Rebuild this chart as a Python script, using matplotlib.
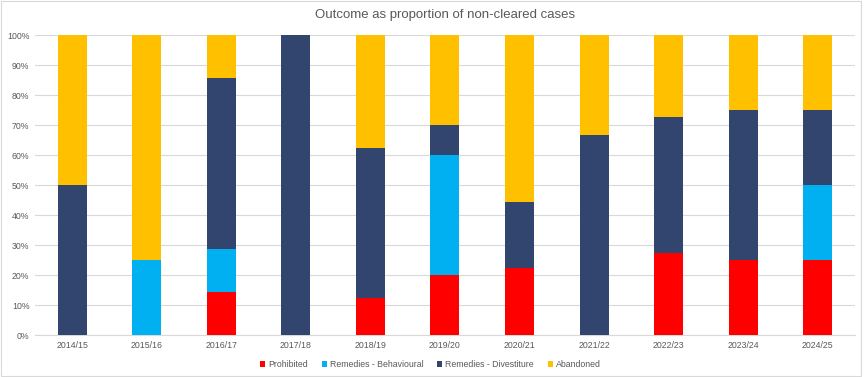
import matplotlib.pyplot as plt
import numpy as np

plt.rcParams['font.family'] = ['Liberation Sans', 'DejaVu Sans']

years = ['2014/15', '2015/16', '2016/17', '2017/18', '2018/19', '2019/20',
         '2020/21', '2021/22', '2022/23', '2023/24', '2024/25']
prohibited = [0, 0, 14.29, 0, 12.5, 20, 22.22, 0, 27.27, 25, 25]
behavioural = [0, 25, 14.29, 0, 0, 40, 0, 0, 0, 0, 25]
divestiture = [50, 0, 57.14, 100, 50, 10, 22.22, 66.67, 45.45, 50, 25]
abandoned = [50, 75, 14.29, 0, 37.5, 30, 55.56, 33.33, 27.27, 25, 25]

series = [('Prohibited', prohibited, '#FF0000'),
          ('Remedies - Behavioural', behavioural, '#00B0F0'),
          ('Remedies - Divestiture', divestiture, '#31456F'),
          ('Abandoned', abandoned, '#FFC000')]

grey = '#595959'
fig = plt.figure(figsize=(8.64, 3.77), dpi=100)
ax = fig.add_axes([0.0405, 0.111, 0.949, 0.796])

x = np.arange(len(years))
bottom = np.zeros(len(years))
for name, vals, col in series:
    vals = np.array(vals, dtype=float)
    ax.bar(x, vals, 0.39, bottom=bottom, color=col, label=name, zorder=3)
    bottom += vals

ax.set_xlim(-0.5, len(years) - 0.5)
ax.set_ylim(0, 100)
ax.set_yticks(np.arange(0, 101, 10))
ax.set_yticklabels([f'{v}%' for v in range(0, 101, 10)])
ax.set_xticks(x)
ax.set_xticklabels(years)
ax.tick_params(length=0, labelsize=6.3, colors=grey, pad=4)
ax.grid(axis='y', color='#D9D9D9', linewidth=0.8, zorder=0)
for s in ['top', 'right', 'left']:
    ax.spines[s].set_visible(False)
ax.spines['bottom'].set_color('#D9D9D9')

ax.set_title('Outcome as proportion of non-cleared cases', fontsize=9.5,
             color=grey, pad=12)

leg = fig.legend(loc='center', bbox_to_anchor=(0.498, 0.033), ncol=4,
                 frameon=False, fontsize=6.3, handlelength=0.6,
                 handleheight=0.6, handletextpad=0.3, columnspacing=1.6)
for t in leg.get_texts():
    t.set_color(grey)

fig.add_artist(plt.Rectangle((0.001, 0.003), 0.996, 0.994, fill=False,
                             edgecolor='#D9D9D9', linewidth=0.8,
                             transform=fig.transFigure))

fig.savefig('out.png', dpi=100)
